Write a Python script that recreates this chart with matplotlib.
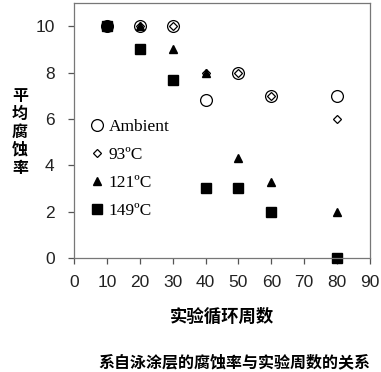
import numpy as np
import matplotlib
matplotlib.use("Agg")
import matplotlib.pyplot as plt

# data
cycles = [10, 20, 30, 40, 50, 60, 80]
ambient = [10, 10, 10, 6.8, 8, 7, 7]
t93 = [10, 10, 10, 8, 8, 7, 6]
t121 = [10, 10, 9, 8, 4.3, 3.3, 2]
t149 = [10, 9, 7.7, 3, 3, 2, 0]
labels = ["Ambient", "93ºC", "121ºC", "149ºC"]
xticks = [0, 10, 20, 30, 40, 50, 60, 70, 80, 90]
yticks = [0, 2, 4, 6, 8, 10]

cjk = ["Noto Sans CJK SC", "DejaVu Sans"]

fig = plt.figure(figsize=(3.81, 3.72), dpi=100)
ax = fig.add_axes([74/381, 1-258/372, 296/381, 255/372])

ax.plot(cycles, ambient, "o", ms=8.5, mfc="white", mec="black", mew=0.9, label=labels[0], clip_on=False)
ax.plot(cycles, t93, "D", ms=4.3, mfc="white", mec="black", mew=0.9, label=labels[1], clip_on=False)
ax.plot(cycles, t121, "^", ms=6, color="black", label=labels[2], clip_on=False)
ax.plot(cycles, t149, "s", ms=7.5, color="black", label=labels[3], clip_on=False)

ax.set_xlim(0, 90)
ax.set_ylim(0, 11)
ax.set_xticks(xticks)
ax.set_yticks(yticks)
for s in ax.spines.values():
    s.set_color("#777777")
    s.set_linewidth(0.9)
ax.tick_params(axis="both", direction="out", length=4, width=0.9, color="#555555",
               labelsize=12.5, labelcolor="#222222")
ax.tick_params(axis="x", pad=8)
ax.tick_params(axis="y", pad=10)
for t in ax.get_xticklabels() + ax.get_yticklabels():
    t.set_fontfamily("Liberation Sans")

leg = ax.legend(loc="upper left", bbox_to_anchor=(0.0, 0.595), frameon=False,
                prop={"family": "Liberation Serif", "size": 12.5},
                handletextpad=0.1, labelspacing=0.7, handlelength=1.2, borderaxespad=0.3)

ax.set_xlabel("实验循环周数", family=cjk, fontsize=12.5, fontweight="bold", labelpad=13)
fig.text(20/381, 1-132/372, "\n".join("平均腐蚀率"), family=cjk, fontsize=11.5,
         fontweight="bold", ha="center", va="center", linespacing=1.15)
fig.text(234/381, 1-362/372, "系自泳涂层的腐蚀率与实验周数的关系", family=cjk,
         fontsize=11.5, fontweight="bold", ha="center", va="center")

fig.savefig("out.png", dpi=100)
